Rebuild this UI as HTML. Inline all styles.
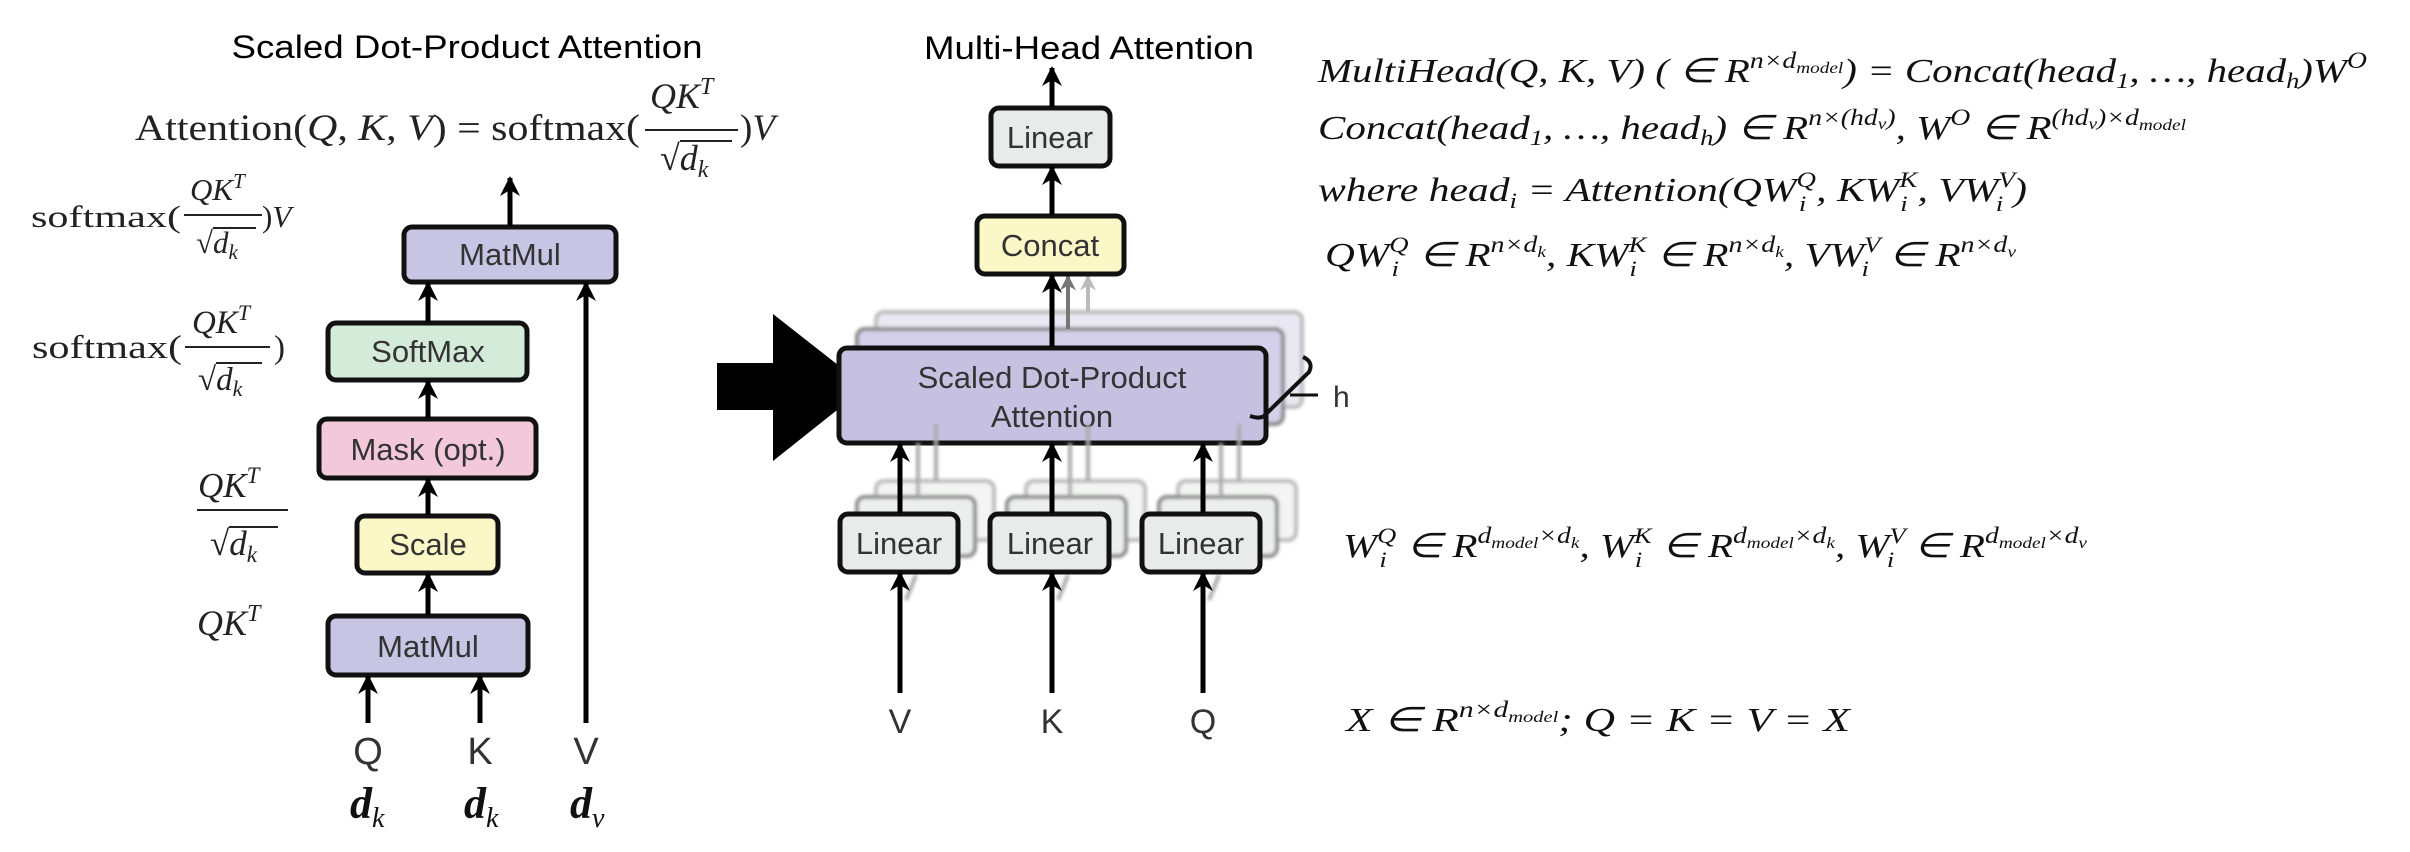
<!DOCTYPE html>
<html><head><meta charset="utf-8"><style>
html,body{margin:0;padding:0;background:#fff;}
svg{display:block;}
.sans{font-family:"Liberation Sans",Arial,sans-serif;}
.ser{font-family:"Liberation Serif","Times New Roman",serif;}
.bt{font-family:"Liberation Sans",Arial,sans-serif;font-size:31px;fill:#333;text-anchor:middle;}
</style></head><body>
<svg width="2410" height="852" viewBox="0 0 2410 852" xmlns="http://www.w3.org/2000/svg">
<defs>
<marker id="ah" viewBox="0 0 10 10" refX="9" refY="5" markerWidth="4" markerHeight="4" orient="auto" markerUnits="strokeWidth"><path d="M0,0 L10,5 L0,10 L3,5 z" fill="#000"/></marker>
<marker id="ahg" viewBox="0 0 10 10" refX="9" refY="5" markerWidth="4" markerHeight="4" orient="auto" markerUnits="strokeWidth"><path d="M0,0 L10,5 L0,10 L3,5 z" fill="#777"/></marker>
<marker id="ahl" viewBox="0 0 10 10" refX="9" refY="5" markerWidth="4" markerHeight="4" orient="auto" markerUnits="strokeWidth"><path d="M0,0 L10,5 L0,10 L3,5 z" fill="#bbb"/></marker>
<filter id="bl"><feGaussianBlur stdDeviation="1.5"/></filter>
</defs>

<text x="467" y="58" class="sans" font-size="32" text-anchor="middle" textLength="471" lengthAdjust="spacingAndGlyphs">Scaled Dot-Product Attention</text>

<g class="ser" fill="#222">
<text x="135" y="140" font-size="37" textLength="505" lengthAdjust="spacingAndGlyphs">Attention(<tspan font-style="italic">Q</tspan>, <tspan font-style="italic">K</tspan>, <tspan font-style="italic">V</tspan>) = softmax(</text>
<text x="650" y="108" font-size="36" font-style="italic">QK<tspan dy="-14" font-size="24">T</tspan></text>
<line x1="645" y1="130" x2="738" y2="130" stroke="#222" stroke-width="2"/>
<text x="660" y="170" font-size="36">√<tspan font-style="italic">d</tspan><tspan dy="7" font-size="24" font-style="italic">k</tspan></text>
<line x1="680" y1="141" x2="732" y2="141" stroke="#222" stroke-width="2"/>
<text x="740" y="140" font-size="37">)<tspan font-style="italic">V</tspan></text>

<text x="31" y="227" font-size="31" textLength="150" lengthAdjust="spacingAndGlyphs">softmax(</text>
<text x="190" y="200" font-size="31" font-style="italic">QK<tspan dy="-12" font-size="21">T</tspan></text>
<line x1="184" y1="215" x2="262" y2="215" stroke="#222" stroke-width="2"/>
<text x="196" y="253" font-size="31">√<tspan font-style="italic">d</tspan><tspan dy="6" font-size="21" font-style="italic">k</tspan></text>
<line x1="213" y1="228" x2="256" y2="228" stroke="#222" stroke-width="2"/>
<text x="262" y="227" font-size="31">)<tspan font-style="italic">V</tspan></text>

<text x="32" y="358" font-size="33" textLength="150" lengthAdjust="spacingAndGlyphs">softmax(</text>
<text x="192" y="333" font-size="33" font-style="italic">QK<tspan dy="-13" font-size="22">T</tspan></text>
<line x1="185" y1="347" x2="270" y2="347" stroke="#222" stroke-width="2"/>
<text x="198" y="390" font-size="33">√<tspan font-style="italic">d</tspan><tspan dy="6" font-size="22" font-style="italic">k</tspan></text>
<line x1="216" y1="363" x2="262" y2="363" stroke="#222" stroke-width="2"/>
<text x="274" y="358" font-size="33">)</text>

<text x="198" y="497" font-size="35" font-style="italic">QK<tspan dy="-14" font-size="23">T</tspan></text>
<line x1="197" y1="510" x2="288" y2="510" stroke="#222" stroke-width="2"/>
<text x="210" y="555" font-size="35">√<tspan font-style="italic">d</tspan><tspan dy="7" font-size="23" font-style="italic">k</tspan></text>
<line x1="229" y1="527" x2="278" y2="527" stroke="#222" stroke-width="2"/>

<text x="197" y="635" font-size="36" font-style="italic">QK<tspan dy="-14" font-size="24">T</tspan></text>
</g>

<g stroke="#111" stroke-width="5">
<rect x="404" y="227" width="212" height="55" rx="8" fill="#c8c4e4"/>
<rect x="328" y="323" width="199" height="57" rx="8" fill="#d4ebd9"/>
<rect x="319" y="419" width="217" height="59" rx="8" fill="#f3c9d9"/>
<rect x="357" y="516" width="141" height="57" rx="8" fill="#fbf7c6"/>
<rect x="328" y="616" width="200" height="59" rx="8" fill="#c8c4e4"/>
</g>
<text x="510" y="265" class="bt">MatMul</text>
<text x="428" y="362" class="bt">SoftMax</text>
<text x="428" y="460" class="bt">Mask (opt.)</text>
<text x="428" y="555" class="bt">Scale</text>
<text x="428" y="657" class="bt">MatMul</text>

<g stroke="#000" stroke-width="5" marker-end="url(#ah)">
<line x1="510" y1="226" x2="510" y2="178"/>
<line x1="428" y1="322" x2="428" y2="283"/>
<line x1="428" y1="418" x2="428" y2="381"/>
<line x1="428" y1="515" x2="428" y2="479"/>
<line x1="428" y1="615" x2="428" y2="574"/>
<line x1="368" y1="723" x2="368" y2="676"/>
<line x1="480" y1="723" x2="480" y2="676"/>
<line x1="586" y1="723" x2="586" y2="283"/>
</g>
<g class="sans" font-size="38" fill="#333" text-anchor="middle">
<text x="368" y="764">Q</text><text x="480" y="764">K</text><text x="586" y="764">V</text>
</g>
<g class="ser" font-size="44" font-style="italic" font-weight="bold" fill="#111">
<text x="350" y="818">d<tspan dy="9" font-size="28" font-weight="normal">k</tspan></text>
<text x="464" y="818">d<tspan dy="9" font-size="28" font-weight="normal">k</tspan></text>
<text x="570" y="818">d<tspan dy="9" font-size="28" font-weight="normal">v</tspan></text>
</g>

<text x="1089" y="59" class="sans" font-size="32" text-anchor="middle" textLength="330" lengthAdjust="spacingAndGlyphs">Multi-Head Attention</text>

<path d="M717,363 L773,363 L773,314 L866,387 L773,461 L773,410 L717,410 Z" fill="#000"/>

<g filter="url(#bl)">
<rect x="876" y="312" width="426" height="95" rx="8" fill="#e9e8f2" stroke="#bbb" stroke-width="4"/>
<rect x="857" y="329" width="426" height="95" rx="8" fill="#d4d0ea" stroke="#888" stroke-width="4"/>
</g>
<line x1="1088" y1="312" x2="1088" y2="276" stroke="#bbb" stroke-width="4" marker-end="url(#ahl)"/>
<line x1="1068" y1="329" x2="1068" y2="276" stroke="#777" stroke-width="4" marker-end="url(#ahg)"/>

<rect x="839" y="348" width="427" height="95" rx="8" fill="#c6c1e1" stroke="#111" stroke-width="5"/>
<text x="1052" y="388" class="bt" font-size="30">Scaled Dot-Product</text>
<text x="1052" y="427" class="bt" font-size="30">Attention</text>

<path d="M1303,357 Q1314,362 1309,372 L1266,414 Q1262,420 1250,416" fill="none" stroke="#111" stroke-width="4"/>
<line x1="1290" y1="395" x2="1318" y2="395" stroke="#111" stroke-width="3"/>
<text x="1333" y="407" class="sans" font-size="30" fill="#333">h</text>

<rect x="977" y="216" width="147" height="58" rx="8" fill="#fbf7c6" stroke="#111" stroke-width="5"/>
<text x="1050" y="256" class="bt">Concat</text>
<rect x="991" y="108" width="119" height="58" rx="8" fill="#e8ebe9" stroke="#111" stroke-width="5"/>
<text x="1050" y="148" class="bt">Linear</text>
<g stroke="#000" stroke-width="5" marker-end="url(#ah)">
<line x1="1052" y1="107" x2="1052" y2="68"/>
<line x1="1052" y1="215" x2="1052" y2="167"/>
<line x1="1052" y1="347" x2="1052" y2="275"/>
</g>

<g filter="url(#bl)">
<g fill="#f3f4f3" stroke="#bbb" stroke-width="4">
<rect x="876" y="481" width="118" height="59" rx="8"/>
<rect x="1026" y="481" width="119" height="59" rx="8"/>
<rect x="1178" y="481" width="118" height="59" rx="8"/>
</g>
<g fill="#eceeed" stroke="#888" stroke-width="4">
<rect x="857" y="497" width="118" height="59" rx="8"/>
<rect x="1007" y="497" width="119" height="59" rx="8"/>
<rect x="1159" y="497" width="118" height="59" rx="8"/>
</g>
<g stroke="#aaa" stroke-width="4">
<line x1="918" y1="497" x2="918" y2="443"/><line x1="936" y1="481" x2="936" y2="424"/>
<line x1="1070" y1="497" x2="1070" y2="443"/><line x1="1088" y1="481" x2="1088" y2="424"/>
<line x1="1221" y1="497" x2="1221" y2="443"/><line x1="1239" y1="481" x2="1239" y2="424"/>
<line x1="906" y1="600" x2="916" y2="575"/><line x1="1058" y1="600" x2="1068" y2="575"/><line x1="1209" y1="600" x2="1219" y2="575"/>
</g>
</g>
<g fill="#e8ebe9" stroke="#111" stroke-width="5">
<rect x="840" y="514" width="118" height="58" rx="8"/>
<rect x="990" y="514" width="119" height="58" rx="8"/>
<rect x="1142" y="514" width="118" height="58" rx="8"/>
</g>
<text x="899" y="554" class="bt">Linear</text>
<text x="1050" y="554" class="bt">Linear</text>
<text x="1201" y="554" class="bt">Linear</text>
<g stroke="#000" stroke-width="5" marker-end="url(#ah)">
<line x1="900" y1="513" x2="900" y2="444"/>
<line x1="1052" y1="513" x2="1052" y2="444"/>
<line x1="1203" y1="513" x2="1203" y2="444"/>
<line x1="900" y1="693" x2="900" y2="573"/>
<line x1="1052" y1="693" x2="1052" y2="573"/>
<line x1="1203" y1="693" x2="1203" y2="573"/>
</g>
<g class="sans" font-size="34" fill="#333" text-anchor="middle">
<text x="900" y="733">V</text><text x="1052" y="733">K</text><text x="1203" y="733">Q</text>
</g>

<g class="ser" font-style="italic" fill="#111" font-size="34">
<text x="1318" y="82" textLength="1049" lengthAdjust="spacingAndGlyphs">MultiHead(Q, K, V) ( ∈ R<tspan dy="-14" font-size="23">n×d</tspan><tspan dy="5" font-size="16">model</tspan><tspan dy="9" font-size="34">) = Concat(head</tspan><tspan dy="6" font-size="22">1</tspan><tspan dy="-6" font-size="34">, …, head</tspan><tspan dy="6" font-size="22">h</tspan><tspan dy="-6" font-size="34">)W</tspan><tspan dy="-14" font-size="23">O</tspan></text>
<text x="1318" y="139" textLength="868" lengthAdjust="spacingAndGlyphs">Concat(head<tspan dy="6" font-size="22">1</tspan><tspan dy="-6" font-size="34">, …, head</tspan><tspan dy="6" font-size="22">h</tspan><tspan dy="-6" font-size="34">) ∈ R</tspan><tspan dy="-14" font-size="23">n×(hd</tspan><tspan dy="4" font-size="16">v</tspan><tspan dy="-4" font-size="23">)</tspan><tspan dy="14" font-size="34">, W</tspan><tspan dy="-14" font-size="23">O</tspan><tspan dy="14" font-size="34"> ∈ R</tspan><tspan dy="-14" font-size="23">(hd</tspan><tspan dy="4" font-size="16">v</tspan><tspan dy="-4" font-size="23">)×d</tspan><tspan dy="5" font-size="16">model</tspan></text>
<text x="1318" y="201" textLength="709" lengthAdjust="spacingAndGlyphs">where head<tspan dy="7" font-size="22">i</tspan><tspan dy="-7" font-size="34"> = Attention(QW</tspan><tspan dy="-14" font-size="22">Q</tspan><tspan dx="-14" dy="24" font-size="22">i</tspan><tspan dx="8" dy="-10" font-size="34">, KW</tspan><tspan dy="-14" font-size="22">K</tspan><tspan dx="-14" dy="24" font-size="22">i</tspan><tspan dx="8" dy="-10" font-size="34">, VW</tspan><tspan dy="-14" font-size="22">V</tspan><tspan dx="-14" dy="24" font-size="22">i</tspan><tspan dx="8" dy="-10" font-size="34">)</tspan></text>
<text x="1325" y="266" textLength="691" lengthAdjust="spacingAndGlyphs">QW<tspan dy="-14" font-size="22">Q</tspan><tspan dx="-14" dy="24" font-size="22">i</tspan><tspan dx="8" dy="-10" font-size="34"> ∈ R</tspan><tspan dy="-14" font-size="23">n×d</tspan><tspan dy="5" font-size="16">k</tspan><tspan dy="9" font-size="34">, KW</tspan><tspan dy="-14" font-size="22">K</tspan><tspan dx="-14" dy="24" font-size="22">i</tspan><tspan dx="8" dy="-10" font-size="34"> ∈ R</tspan><tspan dy="-14" font-size="23">n×d</tspan><tspan dy="5" font-size="16">k</tspan><tspan dy="9" font-size="34">, VW</tspan><tspan dy="-14" font-size="22">V</tspan><tspan dx="-14" dy="24" font-size="22">i</tspan><tspan dx="8" dy="-10" font-size="34"> ∈ R</tspan><tspan dy="-14" font-size="23">n×d</tspan><tspan dy="5" font-size="16">v</tspan></text>
<text x="1343" y="557" textLength="744" lengthAdjust="spacingAndGlyphs">W<tspan dy="-14" font-size="22">Q</tspan><tspan dx="-14" dy="24" font-size="22">i</tspan><tspan dx="8" dy="-10" font-size="34"> ∈ R</tspan><tspan dy="-14" font-size="23">d</tspan><tspan dy="5" font-size="16">model</tspan><tspan dy="-5" font-size="23">×d</tspan><tspan dy="5" font-size="16">k</tspan><tspan dy="9" font-size="34">, W</tspan><tspan dy="-14" font-size="22">K</tspan><tspan dx="-14" dy="24" font-size="22">i</tspan><tspan dx="8" dy="-10" font-size="34"> ∈ R</tspan><tspan dy="-14" font-size="23">d</tspan><tspan dy="5" font-size="16">model</tspan><tspan dy="-5" font-size="23">×d</tspan><tspan dy="5" font-size="16">k</tspan><tspan dy="9" font-size="34">, W</tspan><tspan dy="-14" font-size="22">V</tspan><tspan dx="-14" dy="24" font-size="22">i</tspan><tspan dx="8" dy="-10" font-size="34"> ∈ R</tspan><tspan dy="-14" font-size="23">d</tspan><tspan dy="5" font-size="16">model</tspan><tspan dy="-5" font-size="23">×d</tspan><tspan dy="5" font-size="16">v</tspan></text>
<text x="1346" y="731" textLength="504" lengthAdjust="spacingAndGlyphs">X ∈ R<tspan dy="-14" font-size="23">n×d</tspan><tspan dy="5" font-size="16">model</tspan><tspan dy="9" font-size="34">;  Q = K = V = X</tspan></text>
</g>
</svg>
</body></html>
